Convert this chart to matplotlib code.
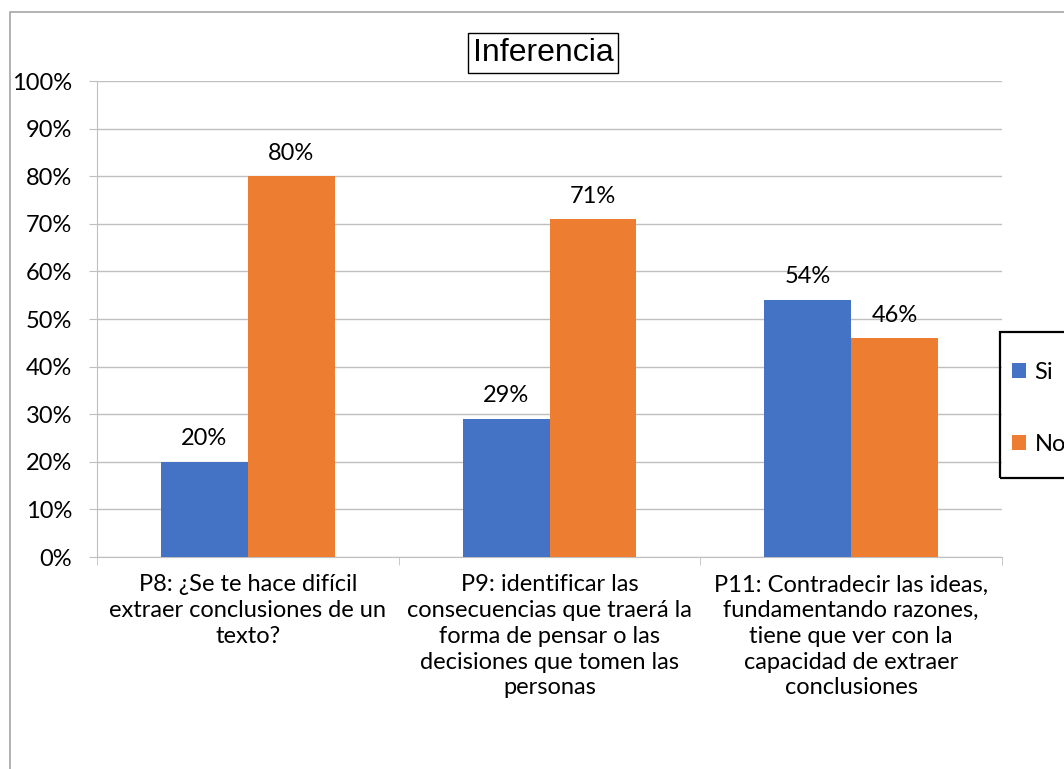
import matplotlib
matplotlib.use("Agg")
import matplotlib.pyplot as plt
from matplotlib.patches import Rectangle
from matplotlib.ticker import FixedLocator, PercentFormatter

categories = [
    "P8: ¿Se te hace difícil\nextraer conclusiones de un\ntexto?",
    "P9: identificar las\nconsecuencias que traerá la\nforma de pensar o las\ndecisiones que tomen las\npersonas",
    "P11: Contradecir las ideas,\nfundamentando razones,\ntiene que ver con la\ncapacidad de extraer\nconclusiones",
]
series_names = ["Si", "No"]
si_values = [20, 29, 54]
no_values = [80, 71, 46]
yticks = [0, 10, 20, 30, 40, 50, 60, 70, 80, 90, 100]

colors = ["#4472C4", "#ED7D31"]
W, H = 1064, 769
fig = plt.figure(figsize=(W / 100, H / 100), dpi=100)

# outer chart border
fig.patches.append(Rectangle((10 / W, -0.1), 1.2, 1 - 12 / H + 0.1, transform=fig.transFigure,
                             fill=False, edgecolor="#A6A6A6", linewidth=1.2))

left, right, top, bottom = 97, 1002, 81, 557
ax = fig.add_axes([left / W, 1 - bottom / H, (right - left) / W, (bottom - top) / H])

lab_font = "Lato"
fs = 17
x = list(range(len(categories)))
bw = 0.288
b1 = ax.bar([i - bw / 2 for i in x], si_values, bw, color=colors[0], label=series_names[0], zorder=3)
b2 = ax.bar([i + bw / 2 for i in x], no_values, bw, color=colors[1], label=series_names[1], zorder=3)
for bars, vals in ((b1, si_values), (b2, no_values)):
    for r, v in zip(bars, vals):
        ax.annotate(f"{v}%", (r.get_x() + r.get_width() / 2, v), xytext=(0, 23),
                    textcoords="offset pixels", ha="center", va="center",
                    fontsize=fs, family=lab_font, color="#000000")

ax.set_xlim(-0.5, 2.5)
ax.set_ylim(0, 100)
ax.set_yticks(yticks)
ax.yaxis.set_major_formatter(PercentFormatter(decimals=0))
ax.grid(axis="y", color="#BFBFBF", linewidth=1, zorder=0)
ax.set_axisbelow(True)
for s in ["top", "right"]:
    ax.spines[s].set_visible(False)
ax.spines["left"].set_color("#BFBFBF")
ax.spines["bottom"].set_color("#BFBFBF")
ax.tick_params(axis="y", length=6, color="#BFBFBF", labelsize=fs, pad=12)
for t in ax.get_yticklabels():
    t.set_family(lab_font)

ax.set_xticks(x)
ax.set_xticklabels(categories, fontsize=fs, family=lab_font, linespacing=1.28, va="top")
ax.tick_params(axis="x", which="major", length=0, pad=12.5)
ax.xaxis.set_minor_locator(FixedLocator([-0.5, 0.5, 1.5, 2.5]))
ax.tick_params(axis="x", which="minor", length=6, color="#BFBFBF")

fig.text(543 / W, 1 - 53 / H, "Inferencia", ha="center", va="center", fontsize=23,
         family="Liberation Sans",
         bbox=dict(boxstyle="square,pad=0.15", facecolor="white", edgecolor="#000000", linewidth=1))

# legend box
fig.patches.append(Rectangle((1000 / W, 1 - 478 / H), 0.2, 146 / H, transform=fig.transFigure,
                             fill=False, edgecolor="#000000", linewidth=1.6))
leg = fig.legend(handles=[b1, b2], labels=series_names, loc="upper left",
                 bbox_to_anchor=(1012 / W, 1 - 362 / H), frameon=False,
                 handlelength=0.6, handleheight=0.6, handletextpad=0.35, labelspacing=2.15,
                 borderpad=0, borderaxespad=0, prop=dict(family=lab_font, size=fs))

fig.savefig("out.png", dpi=100)
